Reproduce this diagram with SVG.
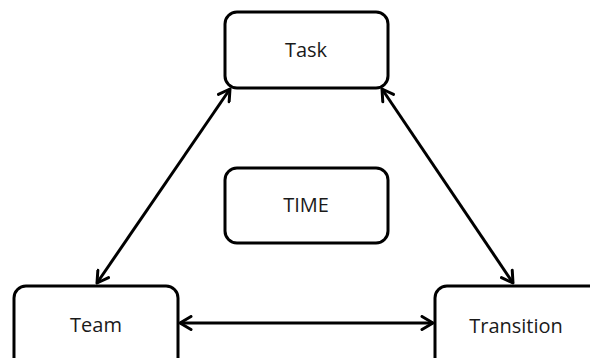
<svg xmlns="http://www.w3.org/2000/svg" width="590" height="358" viewBox="0 0 590 358">
  <style>
    .box { fill: #ffffff; stroke: #000000; stroke-width: 3; }
    .lbl { font-family: "Open Sans", "Liberation Sans", sans-serif; font-size: 20px; fill: #1a1a1a; text-anchor: middle; }
    .conn { stroke: #000000; stroke-width: 3; fill: none; marker-start: url(#arr); marker-end: url(#arr); }
  </style>
  <defs>
    <marker id="arr" markerUnits="userSpaceOnUse" viewBox="0 0 16 16" markerWidth="16" markerHeight="16" refX="14" refY="8" orient="auto-start-reverse">
      <path d="M3,1.5 L14,8 L3,14.5" fill="none" stroke="#000000" stroke-width="3" stroke-linecap="round" stroke-linejoin="round"/>
    </marker>
  </defs>
  <rect width="590" height="358" fill="#ffffff"/>
  <g id="task">
    <rect class="box" x="225" y="12" width="163" height="76" rx="12"/>
    <text class="lbl" x="306" y="57">Task</text>
  </g>
  <g id="time">
    <rect class="box" x="225" y="168" width="163" height="75" rx="12"/>
    <text class="lbl" x="306" y="212">TIME</text>
  </g>
  <g id="team">
    <rect class="box" x="14" y="286" width="164" height="90" rx="12"/>
    <text class="lbl" x="96" y="332">Team</text>
  </g>
  <g id="transition">
    <rect class="box" x="435" y="286" width="170" height="90" rx="12"/>
    <text class="lbl" x="516" y="333">Transition</text>
  </g>
  <g id="connectors">
    <line class="conn" x1="97" y1="283" x2="230" y2="89"/>
    <line class="conn" x1="382" y1="89" x2="513" y2="283"/>
    <line class="conn" x1="180" y1="323" x2="433" y2="323"/>
  </g>
</svg>
